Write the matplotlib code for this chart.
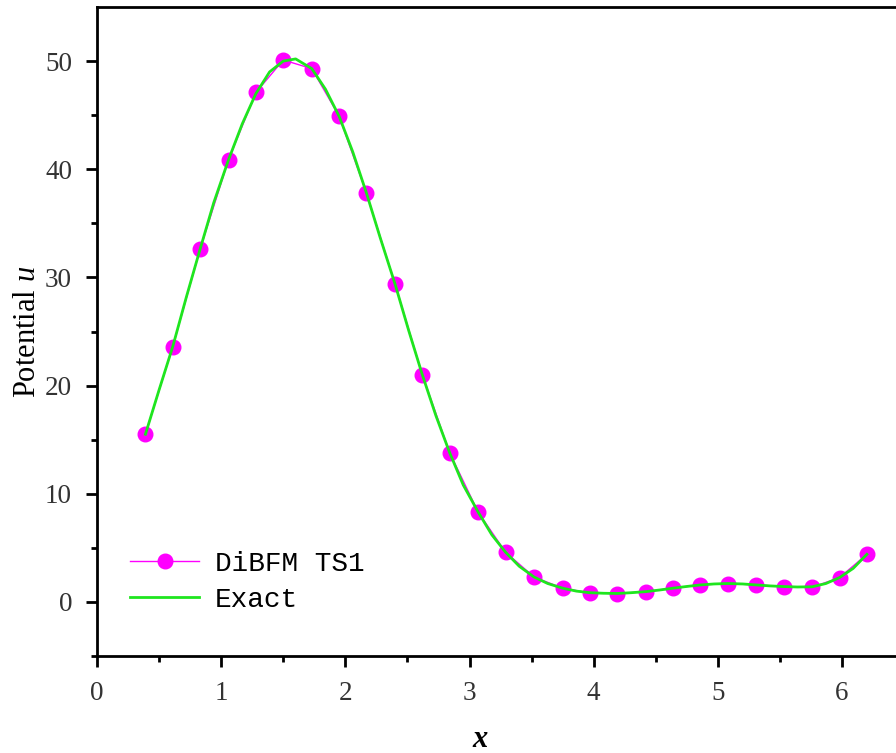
import matplotlib
matplotlib.use("Agg")
import matplotlib.pyplot as plt

plt.rcParams['font.family'] = ['Liberation Serif', 'DejaVu Serif']
plt.rcParams['mathtext.fontset'] = 'custom'
plt.rcParams['mathtext.rm'] = 'Liberation Serif'
plt.rcParams['mathtext.it'] = 'Liberation Serif:italic'

# DiBFM TS1 nodal values
x_num = [0.39, 0.61, 0.83, 1.06, 1.28, 1.50, 1.73, 1.95, 2.17, 2.40, 2.62, 2.84, 3.07, 3.29,
         3.52, 3.75, 3.97, 4.19, 4.42, 4.64, 4.86, 5.08, 5.31, 5.53, 5.76, 5.98, 6.20]
u_num = [15.5, 23.6, 32.6, 40.9, 47.1, 50.1, 49.3, 44.9, 37.8, 29.4, 21.0, 13.8, 8.3, 4.6,
         2.3, 1.27, 0.83, 0.77, 0.95, 1.27, 1.57, 1.70, 1.57, 1.42, 1.36, 2.25, 4.4]

# exact solution
x_ex = [0.39, 0.50, 0.61, 0.72, 0.83, 0.94, 1.06, 1.17, 1.28, 1.39, 1.50, 1.60, 1.73, 1.84,
        1.95, 2.06, 2.17, 2.28, 2.40, 2.51, 2.62, 2.73, 2.84, 2.95, 3.07, 3.18, 3.29, 3.40,
        3.52, 3.63, 3.75, 3.86, 3.97, 4.08, 4.19, 4.30, 4.42, 4.53, 4.64, 4.75, 4.86, 4.97,
        5.08, 5.20, 5.31, 5.42, 5.53, 5.64, 5.76, 5.87, 5.98, 6.09, 6.20]
u_ex = [15.5, 19.6, 23.6, 28.2, 32.6, 36.9, 40.9, 44.2, 47.0, 49.0, 50.0, 50.2, 49.3, 47.4,
        44.9, 41.6, 37.8, 33.7, 29.4, 25.1, 21.0, 17.2, 13.8, 10.8, 8.3, 6.2, 4.6, 3.3,
        2.3, 1.7, 1.27, 1.0, 0.85, 0.8, 0.78, 0.85, 0.95, 1.1, 1.27, 1.43, 1.57, 1.66,
        1.70, 1.66, 1.57, 1.48, 1.42, 1.38, 1.40, 1.70, 2.25, 3.1, 4.4]

W, H = 896, 753
fig = plt.figure(figsize=(W / 100, H / 100), dpi=100)
left, right, top, bottom = 97, 905, 7, 656
ax = fig.add_axes([left / W, 1 - bottom / H, (right - left) / W, (bottom - top) / H])

ax.plot(x_num, u_num, color='#ff00ff', lw=1.0, marker='o', ms=10.5,
        mec='#ff00ff', mfc='#ff00ff', label='DiBFM TS1', zorder=2)
ax.plot(x_ex, u_ex, color='#1ee61e', lw=2.0, label='Exact', zorder=3)

ax.set_xlim(0, (right - left) / 124.17)
ax.set_ylim(-5, 55)
ax.set_xticks([0, 1, 2, 3, 4, 5, 6])
ax.set_xticks([0.5, 1.5, 2.5, 3.5, 4.5, 5.5], minor=True)
ax.set_yticks([0, 10, 20, 30, 40, 50])
ax.set_yticks([-5, 5, 15, 25, 35, 45], minor=True)

for s in ['left', 'bottom', 'top']:
    ax.spines[s].set_linewidth(2.0)
ax.spines['right'].set_visible(False)
ax.tick_params(which='major', direction='out', length=8, width=2.0,
               labelsize=19.5, colors='black', labelcolor='#333333', pad=10)
ax.tick_params(which='minor', direction='out', length=4.5, width=2.0)

ax.set_ylabel(r'Potential $\mathit{u}$', fontsize=22)
ax.yaxis.set_label_coords(-0.068, 0.50)
ax.set_xlabel('x', fontsize=22, fontstyle='italic', fontweight='bold')
ax.xaxis.set_label_coords(0.474, -0.106)

ax.legend(loc='center left', bbox_to_anchor=(130 / W, 1 - 582 / H),
          bbox_transform=fig.transFigure, frameon=False, borderpad=0,
          borderaxespad=0, handlelength=2.5, handletextpad=0.55, labelspacing=0.35,
          prop={'family': 'Liberation Mono', 'size': 20})

fig.savefig('out.png', dpi=100)
